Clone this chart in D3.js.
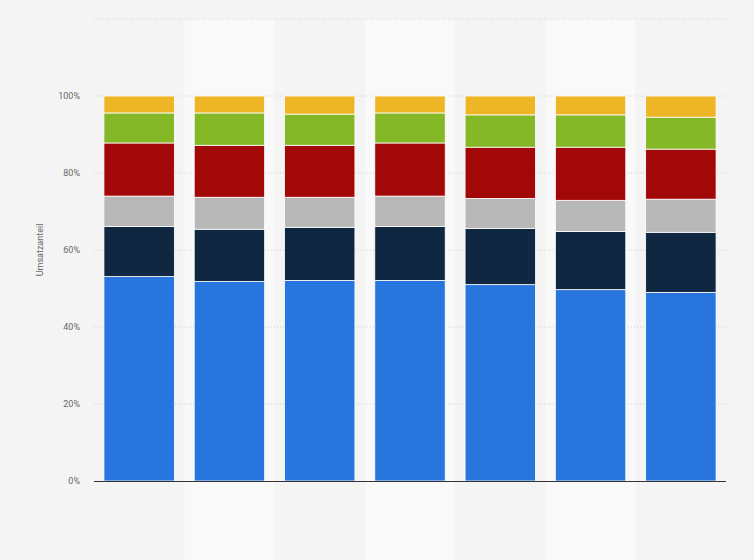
<!DOCTYPE html><html><head><meta charset="utf-8"><script src="https://cdn.jsdelivr.net/npm/d3@7"></script>
<style>body{margin:0;background:#f4f4f4}</style></head><body><svg id="c" width="754" height="560"></svg>
<script>
const categories=["1","2","3","4","5","6","7"];
const seriesNames=["s1","s2","s3","s4","s5","s6"];
const colors=["#2876dd","#0f2740","#b8b8b8","#a30808","#84b827","#eeb526"];
const s1=[53.1,51.8,52.1,52.1,51.0,49.7,49.0];
const s2=[13.0,13.6,13.8,14.0,14.6,15.1,15.6];
const s3=[7.9,8.3,7.8,7.9,7.8,8.1,8.6];
const s4=[13.8,13.5,13.5,13.8,13.3,13.8,13.0];
const s5=[7.8,8.4,8.1,7.8,8.4,8.4,8.3];
const s6=[4.4,4.4,4.7,4.4,4.9,4.9,5.5];
const yTicks=[0,20,40,60,80,100,120];
const series=[s1,s2,s3,s4,s5,s6];
const rows=categories.map((c,i)=>{const r={cat:c};seriesNames.forEach((s,j)=>r[s]=series[j][i]);return r;});
const svg=d3.select("#c");
const x=d3.scaleBand().domain(categories).range([94,726]).paddingInner(0.22).paddingOuter(0.11);
const xb=d3.scaleBand().domain(categories).range([94,726]);
const y=d3.scaleLinear().domain([0,120]).range([481,19]);
svg.selectAll(".band").data(categories.filter((d,i)=>i%2==1)).enter().append("rect")
 .attr("x",d=>xb(d)).attr("width",xb.bandwidth()).attr("y",19).attr("height",541).attr("fill","#f9f9f9");
svg.selectAll(".grid").data(yTicks.slice(1)).enter().append("line")
 .attr("x1",94).attr("x2",726).attr("y1",d=>y(d)).attr("y2",d=>y(d)).attr("stroke","#cfcfcf").attr("stroke-dasharray","1,2");
const stack=d3.stack().keys(seriesNames)(rows);
svg.selectAll(".s").data(stack).enter().append("g").attr("fill",(d,i)=>colors[i])
 .selectAll("rect").data(d=>d).enter().append("rect")
 .attr("x",d=>x(d.data.cat)).attr("width",x.bandwidth()).attr("y",d=>y(d[1])).attr("height",d=>y(d[0])-y(d[1]))
 .attr("stroke","#fff").attr("stroke-width",0.8);
const ax=svg.append("g").attr("transform","translate(94,0)").call(d3.axisLeft(y).tickValues(yTicks.slice(0,6)).tickFormat(d=>d+"%").tickSize(0).tickPadding(14));
ax.select(".domain").remove();
ax.selectAll("text").attr("fill","#666").attr("font-size","9px").attr("font-family","Roboto, sans-serif");
svg.append("line").attr("x1",94).attr("x2",726).attr("y1",481.5).attr("y2",481.5).attr("stroke","#333");
svg.append("text").attr("transform","translate(43,250) rotate(-90)").attr("text-anchor","middle")
 .attr("font-size","9px").attr("fill","#666").attr("font-family","Roboto, sans-serif").text("Umsatzanteil");
</script></body></html>
